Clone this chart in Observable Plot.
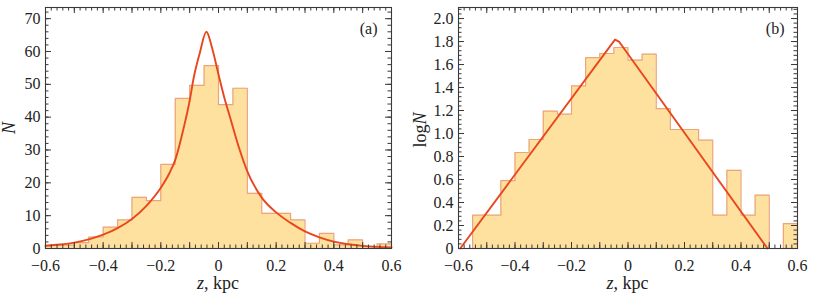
<!DOCTYPE html>
<html>
<head>
<meta charset="utf-8">
<script src="https://cdn.jsdelivr.net/npm/d3@7"></script>
<script src="https://cdn.jsdelivr.net/npm/@observablehq/plot@0.6"></script>
<style>
  html, body { margin: 0; padding: 0; background: #fff; }
  #wrap { display: flex; width: 818px; height: 298px; }
  #wrap svg, #wrap svg text { font-family: "Liberation Serif", "Times New Roman", serif !important; }
</style>
</head>
<body>
<div id="wrap"></div>
<script>
// Bin left edges (kpc), bin width 0.05
const binLeft = [-0.6, -0.55, -0.5, -0.45, -0.4, -0.35, -0.3, -0.25, -0.2, -0.15, -0.1, -0.05,
                 0, 0.05, 0.1, 0.15, 0.2, 0.25, 0.3, 0.35, 0.4, 0.45, 0.5, 0.55];
const binWidth = 0.05;

// Panel (a): counts N
const countsA = [1, 1, 1.8, 3.5, 6.5, 8.7, 15.6, 14.6, 25.6, 45.7, 49.7, 55.7,
                 43.8, 48.8, 16.8, 10.7, 10.7, 8.7, 1.6, 4.6, 1.1, 2.6, 0.6, 1.4];
// Panel (a): fitted curve
const fitAz = [-0.6, -0.55, -0.5, -0.45, -0.4, -0.35, -0.3, -0.25, -0.2, -0.17, -0.15, -0.12, -0.1,
               -0.086, -0.065, -0.042, -0.022, 0, 0.02, 0.04, 0.07, 0.1, 0.15, 0.2, 0.25, 0.3,
               0.35, 0.4, 0.45, 0.5, 0.55, 0.6];
const fitAN = [0.8, 1.2, 1.8, 2.8, 4.2, 6.2, 9, 13, 18.5, 23, 27, 37, 45,
               52, 59.5, 66, 61, 53, 46, 40, 31, 23.5, 15.5, 11, 7.8, 5.2,
               3.4, 2.1, 1.3, 0.8, 0.5, 0.35];

// Panel (b): log N
const logB = [0, 0.29, 0.29, 0.59, 0.835, 0.948, 1.194, 1.168, 1.414, 1.66, 1.696, 1.748,
              1.638, 1.69, 1.217, 1.035, 1.035, 0.942, 0.29, 0.68, 0.29, 0.464, 0, 0.217];
// Panel (b): fitted line
const fitBz = [-0.594, -0.046, -0.032, 0.494];
const fitBlog = [0, 1.817, 1.80, 0];

// Tick labels
const xTickLabels = [-0.6, -0.4, -0.2, 0, 0.2, 0.4, 0.6];
const yTickLabelsA = [0, 10, 20, 30, 40, 50, 60, 70];
const yTickLabelsB = [0, 0.2, 0.4, 0.6, 0.8, 1.0, 1.2, 1.4, 1.6, 1.8, 2.0];

const FILL = "#FEE09F";
const EDGE = "#EBA47C";
const CURVE = "#E8471E";
const INK = "#3a3a3a";
const FONT = "'Liberation Serif', 'Times New Roman', serif";

function stepPoints(vals) {
  const pts = [{x: binLeft[0], y: 0}];
  vals.forEach((v, i) => {
    pts.push({x: binLeft[i], y: v});
    pts.push({x: binLeft[i] + binWidth, y: v});
  });
  pts.push({x: binLeft[binLeft.length - 1] + binWidth, y: 0});
  return pts;
}

function panel({vals, fitX, fitY, yDomain, yLabels, yMajorStep, yMinorStep, yFmt,
                mL, mR, tag, tagDx, curveType}) {
  const W = 409, H = 298, mT = 7, mB = 50;
  const pw = W - mL - mR, ph = H - mT - mB;
  const fit = fitX.map((x, i) => ({x, y: fitY[i]}));
  const steps = stepPoints(vals);
  const xMinor = d3.range(-30, 31).map(i => +(i * 0.02).toFixed(2));
  const xMajor = d3.range(-6, 7).map(i => +(i * 0.1).toFixed(1));
  const yMax = yDomain[1];
  const yMinor = d3.range(0, Math.floor(yMax / yMinorStep + 1e-9) + 1).map(i => +(i * yMinorStep).toFixed(3));
  const yMajor = d3.range(0, Math.floor(yMax / yMajorStep + 1e-9) + 1).map(i => +(i * yMajorStep).toFixed(3));
  const maj = 6, mnr = 3.5;
  const svg = Plot.plot({
    width: W, height: H,
    marginLeft: mL, marginRight: mR, marginTop: mT, marginBottom: mB,
    style: `font-family: ${FONT}; font-size: 16px; color: ${INK}; background: #fff;`,
    x: {domain: [-0.6, 0.6]},
    y: {domain: yDomain},
    marks: [
      Plot.areaY(steps, {x: "x", y1: 0, y2: "y", fill: FILL}),
      Plot.line(steps, {x: "x", y: "y", stroke: EDGE, strokeWidth: 1.2}),
      Plot.line(fit, {x: "x", y: "y", stroke: CURVE, strokeWidth: 1.9, curve: curveType}),
      // inward ticks on all four sides
      Plot.ruleX(xMinor, {x: d => d, insetTop: ph - mnr, stroke: INK, strokeWidth: 1}),
      Plot.ruleX(xMajor, {x: d => d, insetTop: ph - maj, stroke: INK, strokeWidth: 1}),
      Plot.ruleX(xMinor, {x: d => d, insetBottom: ph - mnr, stroke: INK, strokeWidth: 1}),
      Plot.ruleX(xMajor, {x: d => d, insetBottom: ph - maj, stroke: INK, strokeWidth: 1}),
      Plot.ruleY(yMinor, {y: d => d, insetRight: pw - mnr, stroke: INK, strokeWidth: 1}),
      Plot.ruleY(yMajor, {y: d => d, insetRight: pw - maj, stroke: INK, strokeWidth: 1}),
      Plot.ruleY(yMinor, {y: d => d, insetLeft: pw - mnr, stroke: INK, strokeWidth: 1}),
      Plot.ruleY(yMajor, {y: d => d, insetLeft: pw - maj, stroke: INK, strokeWidth: 1}),
      Plot.frame({stroke: INK, strokeWidth: 1.1}),
      Plot.axisX(xTickLabels, {tickSize: 0, tickPadding: 11, label: null, fontSize: 16, fill: "#222",
                  tickFormat: d => d === 0 ? "0" : d3.format(".1f")(d).replace("-", "\u2212")}),
      Plot.axisY(yLabels, {tickSize: 0, tickPadding: 5, label: null, fontSize: 16, fill: "#222", tickFormat: yFmt}),
      Plot.text([tag], {frameAnchor: "top-right", textAnchor: "end", lineAnchor: "middle",
                        dx: tagDx, dy: 21, fontSize: 16, fill: "#222"})
    ]
  });
  const s = d3.select(svg);
  s.style("font-family", FONT);
  // x-axis label "z, kpc"
  const xl = s.append("text")
    .attr("x", mL + pw / 2).attr("y", 289)
    .attr("text-anchor", "middle").attr("font-size", 18).attr("fill", "#222");
  xl.append("tspan").attr("font-style", "italic").text("z");
  xl.append("tspan").text(", kpc");
  return {svg, s, ph};
}

const wrap = document.getElementById("wrap");

const A = panel({
  vals: countsA, fitX: fitAz, fitY: fitAN, yDomain: [0, 73.4], yLabels: yTickLabelsA,
  yMajorStep: 10, yMinorStep: 2, yFmt: d => String(d), mL: 45, mR: 18, tag: "(a)", tagDx: -14,
  curveType: "monotone-x"
});
const yla = A.s.append("text")
  .attr("transform", "translate(15,128) rotate(-90)")
  .attr("text-anchor", "middle").attr("font-size", 18).attr("fill", "#222");
yla.append("tspan").attr("font-style", "italic").text("N");
wrap.appendChild(A.svg);

const B = panel({
  vals: logB, fitX: fitBz, fitY: fitBlog, yDomain: [0, 2.096], yLabels: yTickLabelsB,
  yMajorStep: 0.2, yMinorStep: 0.04, yFmt: d => d === 0 ? "0" : d.toFixed(1), mL: 49, mR: 21,
  tag: "(b)", tagDx: -13, curveType: "linear"
});
const ylb = B.s.append("text")
  .attr("transform", "translate(17,130) rotate(-90)")
  .attr("text-anchor", "middle").attr("font-size", 18).attr("fill", "#222");
ylb.append("tspan").text("log");
ylb.append("tspan").attr("font-style", "italic").text("N");
wrap.appendChild(B.svg);
</script>
</body>
</html>
